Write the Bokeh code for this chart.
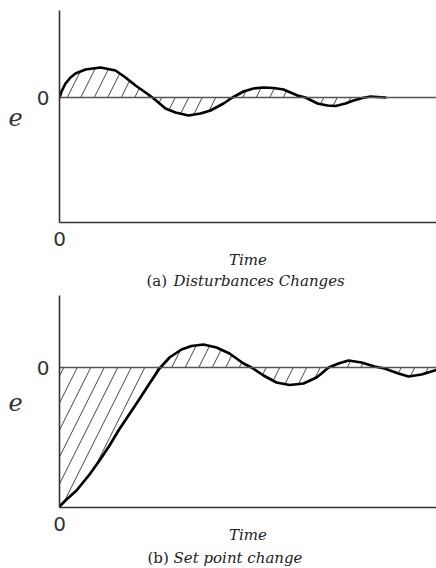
from bokeh.plotting import figure
from bokeh.models import Range1d, FixedTicker, Span, Label
from bokeh.layouts import column
from bokeh.embed import file_html
from bokeh.resources import INLINE

# ---- data (time, error) ----
time_a = [0, 2, 6, 11, 16, 26, 41, 56, 66, 76, 86, 93, 106, 116, 129, 141, 151, 164, 173,
          184, 194, 204, 214, 224, 238, 246, 258, 268, 276, 286, 294, 303, 311, 318, 326]
err_a = [0, 6, 14, 20, 24, 28, 30, 27, 20, 12, 5, 0, -11, -15, -18, -16, -13, -6, 0,
         6, 9, 10, 9.5, 8, 2, 0, -6, -8, -8.5, -6, -3, -0.5, 1, 0.5, 0]

time_b = [0, 7, 17, 30, 40, 50, 59, 69, 79, 90, 100, 110, 122, 132, 144, 157, 170, 184, 192,
          204, 217, 230, 244, 257, 262, 269, 279, 289, 302, 315, 325, 339, 349, 362, 375, 378]
err_b = [-139, -132, -123, -107, -93, -78, -63, -48, -33, -16, -1, 10, 18, 21.5, 23, 20, 14, 4, 0,
         -8, -15, -17.5, -16, -10, -6, 0, 4, 7, 5, 1, -1, -6, -9, -7, -3, -2]

tick_values = [0]
x_label = "Time"
y_label = "e"
captions = [("(a)", "Disturbances Changes"), ("(b)", "Set point change")]

SERIF = "DejaVu Serif"
W = 436
LEFT = 59
XSPAN = W - LEFT


def panel(t, e, yr, height, btop, bbottom, time_standoff):
    p = figure(width=W, height=height, x_range=Range1d(0, XSPAN), y_range=Range1d(*yr),
               output_backend="svg", toolbar_location=None,
               min_border_left=LEFT, min_border_right=0,
               min_border_top=btop, min_border_bottom=bbottom)
    p.outline_line_color = None
    p.grid.visible = False
    for ax in (p.xaxis, p.yaxis):
        ax.ticker = FixedTicker(ticks=tick_values)
        ax.major_tick_line_color = None
        ax.minor_tick_line_color = None
        ax.axis_line_color = "#333333"
        ax.axis_line_width = 1.6
        ax.major_label_text_font = "DejaVu Sans"
        ax.major_label_text_font_size = "20px"
        ax.major_label_text_color = "#333333"
    p.yaxis.major_label_standoff = 4
    p.xaxis.major_label_standoff = 3

    p.yaxis.axis_label = y_label
    p.yaxis.axis_label_orientation = "horizontal"
    p.yaxis.axis_label_text_font = SERIF
    p.yaxis.axis_label_text_font_style = "italic"
    p.yaxis.axis_label_text_font_size = "24px"
    p.yaxis.axis_label_text_color = "#333333"
    p.yaxis.axis_label_standoff = 11

    p.xaxis.axis_label = x_label
    p.xaxis.axis_label_text_font = SERIF
    p.xaxis.axis_label_text_font_style = "italic"
    p.xaxis.axis_label_text_font_size = "15px"
    p.xaxis.axis_label_text_color = "#222222"
    p.xaxis.axis_label_standoff = time_standoff

    p.varea(x=t, y1=0, y2=e, fill_color=None, hatch_pattern="/",
            hatch_scale=27, hatch_weight=1.0, hatch_color="#444444")
    p.add_layout(Span(location=0, dimension="width", line_color="#555555", line_width=1.5))
    p.line(t, e, line_width=2.7, line_color="black", line_join="round", line_cap="round")
    return p


def caption(height, ymid, tag, cap, tag_x, cap_x):
    c = figure(width=W, height=height, x_range=Range1d(0, XSPAN), y_range=Range1d(0, height),
               output_backend="svg", toolbar_location=None, min_border=0,
               min_border_left=LEFT, x_axis_location=None, y_axis_location=None)
    c.outline_line_color = None
    c.grid.visible = False
    c.add_layout(Label(x=tag_x, y=ymid, text=tag, text_font=SERIF, text_font_size="15px",
                       text_color="#222222", text_align="left", text_baseline="middle"))
    c.add_layout(Label(x=cap_x, y=ymid, text=cap, text_font=SERIF,
                       text_font_style="italic", text_font_size="15px",
                       text_color="#222222", text_align="left", text_baseline="middle"))
    return c


pa = panel(time_a, err_a, (-125, 87), 272, 10, 50, 2)
ca = caption(18, 10, captions[0][0], captions[0][1], 87, 114)
pb = panel(time_b, err_b, (-140, 72), 257, 5, 40, -8)
cb = caption(20, 10, captions[1][0], captions[1][1], 88, 114)

layout = column(pa, ca, pb, cb, spacing=0)
open("out.html", "w").write(file_html(layout, INLINE))
